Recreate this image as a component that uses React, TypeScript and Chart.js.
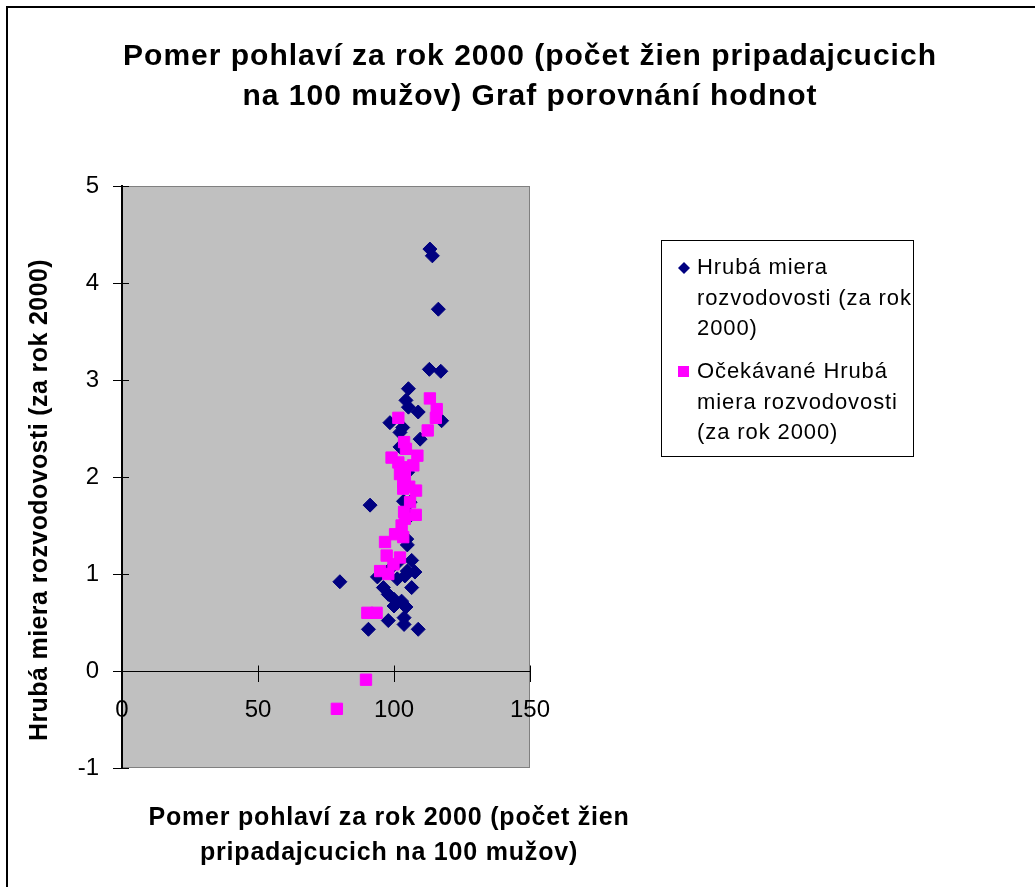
import React, { useEffect, useRef } from 'react';
import { Chart, registerables } from 'chart.js';

Chart.register(...registerables);

const FONT = '"Liberation Sans", Arial, Helvetica, sans-serif';

const titleLines = ['Pomer pohlaví za rok 2000 (počet žien pripadajcucich', 'na 100 mužov) Graf porovnání hodnot'];
const xTitleLines = ['Pomer pohlaví za rok 2000 (počet žien', 'pripadajcucich na 100 mužov)'];
const yTitle = 'Hrubá miera rozvodovosti (za rok 2000)';
const seriesNames = ['Hrubá miera rozvodovosti (za rok 2000)', 'Očekávané Hrubá miera rozvodovosti (za rok 2000)'];
const legendLines1 = ['Hrubá miera', 'rozvodovosti (za rok', '2000)'];
const legendLines2 = ['Očekávané Hrubá', 'miera rozvodovosti', '(za rok 2000)'];

const xTicks = [0, 50, 100, 150];
const yTicks = [-1, 0, 1, 2, 3, 4, 5];

const actualX = [113.2, 114.1, 116.3, 113.0, 117.2, 105.3, 104.4, 105.3, 108.9, 117.5, 98.5, 103.2, 102.2, 109.6, 102.2, 105.0, 103.5, 91.2, 105.9, 106.0, 104.7, 104.9, 106.5, 101.5, 107.7, 104.9, 98.5, 93.9, 101.2, 104.0, 80.1, 106.5, 96.1, 97.9, 100.0, 102.8, 104.4, 100.0, 97.9, 103.7, 103.7, 90.6, 108.9];
const actualY = [4.35, 4.28, 3.73, 3.11, 3.09, 2.91, 2.79, 2.72, 2.67, 2.58, 2.56, 2.51, 2.46, 2.39, 2.31, 2.05, 1.75, 1.71, 1.74, 1.6, 1.36, 1.3, 1.14, 1.12, 1.02, 1.03, 1.05, 0.97, 0.95, 0.98, 0.92, 0.86, 0.86, 0.79, 0.74, 0.72, 0.66, 0.67, 0.52, 0.55, 0.48, 0.43, 0.43];

const expectedX = [113.2, 115.7, 115.4, 101.6, 112.4, 103.7, 104.4, 99.1, 108.6, 101.6, 107.1, 104.0, 102.2, 104.0, 103.4, 105.6, 103.4, 108.1, 105.9, 103.7, 108.0, 104.0, 102.8, 100.4, 103.4, 96.7, 97.3, 102.2, 99.8, 94.9, 97.9, 90.2, 93.6, 89.7, 79.0];
const expectedY = [2.81, 2.7, 2.61, 2.61, 2.48, 2.36, 2.29, 2.2, 2.22, 2.15, 2.12, 2.1, 2.03, 2.01, 1.95, 1.9, 1.88, 1.86, 1.74, 1.64, 1.61, 1.57, 1.5, 1.41, 1.38, 1.33, 1.19, 1.17, 1.1, 1.03, 1.0, 0.6, 0.6, -0.09, -0.39];

function drawText(ctx: CanvasRenderingContext2D, s: string, x: number, y: number, font: string, ls: number, align: CanvasTextAlign = 'center') {
  ctx.save();
  ctx.font = font;
  ctx.fillStyle = '#000';
  ctx.textAlign = align;
  ctx.textBaseline = 'middle';
  (ctx as any).letterSpacing = ls + 'px';
  ctx.fillText(s, x, y);
  ctx.restore();
}

const decor = {
  id: 'decor',
  beforeDraw(chart: any) {
    const { ctx, chartArea: a } = chart;
    ctx.save();
    ctx.fillStyle = '#C0C0C0';
    ctx.fillRect(a.left, a.top, a.right - a.left, a.bottom - a.top);
    ctx.strokeStyle = '#808080';
    ctx.lineWidth = 1;
    ctx.strokeRect(a.left + 0.5, a.top + 0.5, a.right - a.left - 1, a.bottom - a.top - 1);
    ctx.restore();
  },
  afterDraw(chart: any) {
    const { ctx, chartArea: a } = chart;
    const xs = chart.scales.x;
    const ys = chart.scales.y;
    ctx.save();
    ctx.strokeStyle = '#000';
    ctx.lineWidth = 1;
    const zeroY = Math.round(ys.getPixelForValue(0)) + 0.5;
    ctx.beginPath();
    for (const v of xTicks) {
      const px = Math.round(xs.getPixelForValue(v)) + 0.5;
      ctx.moveTo(px, zeroY - 6);
      ctx.lineTo(px, zeroY);
    }
    for (const v of yTicks) {
      const py = Math.round(ys.getPixelForValue(v)) + 0.5;
      ctx.moveTo(a.left, py);
      ctx.lineTo(a.left + 7, py);
    }
    ctx.stroke();

    ctx.fillStyle = '#000';
    ctx.fillRect(6, 6, 1100, 2);
    ctx.fillRect(6, 6, 2, 1000);
    ctx.restore();

    const tf = `bold 30px ${FONT}`;
    drawText(ctx, titleLines[0], 530, 57, tf, 1);
    drawText(ctx, titleLines[1], 530, 97, tf, 1);

    const af = `bold 25px ${FONT}`;
    drawText(ctx, xTitleLines[0], 389, 818, af, 0.8);
    drawText(ctx, xTitleLines[1], 389, 853, af, 0.8);

    ctx.save();
    ctx.translate(40, 500);
    ctx.rotate(-Math.PI / 2);
    drawText(ctx, yTitle, 0, 0, af, 0.4);
    ctx.restore();

    ctx.save();
    ctx.strokeStyle = '#000';
    ctx.lineWidth = 1;
    ctx.strokeRect(661.5, 240.5, 252, 216);
    ctx.fillStyle = '#000080';
    ctx.beginPath();
    const dx = 684, dy = 268, r = 6;
    ctx.moveTo(dx, dy - r);
    ctx.lineTo(dx + r, dy);
    ctx.lineTo(dx, dy + r);
    ctx.lineTo(dx - r, dy);
    ctx.closePath();
    ctx.fill();
    ctx.fillStyle = '#FF00FF';
    ctx.fillRect(678, 366, 11, 11);
    ctx.restore();
    const lf = `22px ${FONT}`;
    const g1 = [268, 299, 329];
    const g2 = [372, 403, 433];
    legendLines1.forEach((s, i) => drawText(ctx, s, 697, g1[i], lf, 0.9, 'left'));
    legendLines2.forEach((s, i) => drawText(ctx, s, 697, g2[i], lf, 0.9, 'left'));
  },
};

export default function App() {
  const ref = useRef<HTMLCanvasElement>(null);
  useEffect(() => {
    if (!ref.current) return;
    const tickFont = { family: FONT, size: 24 };
    const chart = new Chart(ref.current, {
      type: 'scatter',
      data: {
        datasets: [
          {
            label: seriesNames[0],
            data: actualX.map((x, i) => ({ x, y: actualY[i] })),
            pointStyle: 'rectRot',
            pointRadius: 7,
            pointHoverRadius: 7,
            backgroundColor: '#000080',
            borderColor: '#000080',
            borderWidth: 1,
            order: 1,
          },
          {
            label: seriesNames[1],
            data: expectedX.map((x, i) => ({ x, y: expectedY[i] })),
            pointStyle: 'rect',
            pointRadius: 8,
            pointHoverRadius: 8,
            backgroundColor: '#FF00FF',
            borderColor: '#FF00FF',
            borderWidth: 1,
            order: 0,
          },
        ],
      },
      options: {
        responsive: false,
        animation: false,
        events: [],
        layout: { padding: { left: 0, top: 186, right: 505, bottom: 119 } },
        plugins: {
          legend: { display: false },
          title: { display: false },
          tooltip: { enabled: false },
        },
        scales: {
          x: {
            type: 'linear',
            position: { y: 0 } as any,
            min: 0,
            max: 150,
            afterFit: (s: any) => { s.height = 0; },
            afterBuildTicks: (s: any) => { s.ticks = xTicks.map((v) => ({ value: v })); },
            ticks: { font: tickFont, color: '#000', padding: 15, maxRotation: 0, autoSkip: false },
            grid: { display: true, drawOnChartArea: false, drawTicks: true, tickLength: 10, color: '#000', lineWidth: 1 },
            border: { display: true, color: '#000', width: 1 },
          },
          y: {
            type: 'linear',
            position: 'left',
            min: -1,
            max: 5,
            afterFit: (s: any) => { s.width = 122; },
            afterBuildTicks: (s: any) => { s.ticks = yTicks.map((v) => ({ value: v })); },
            ticks: { font: tickFont, color: '#000', padding: 14, autoSkip: false },
            grid: { display: true, drawOnChartArea: false, drawTicks: true, tickLength: 9, color: '#000', lineWidth: 1 },
            border: { display: true, color: '#000', width: 2 },
          },
        },
      },
      plugins: [decor],
    });
    return () => chart.destroy();
  }, []);
  return (
    <canvas
      ref={ref}
      width={1035}
      height={887}
      style={{ position: 'absolute', left: 0, top: 0 }}
    />
  );
}
